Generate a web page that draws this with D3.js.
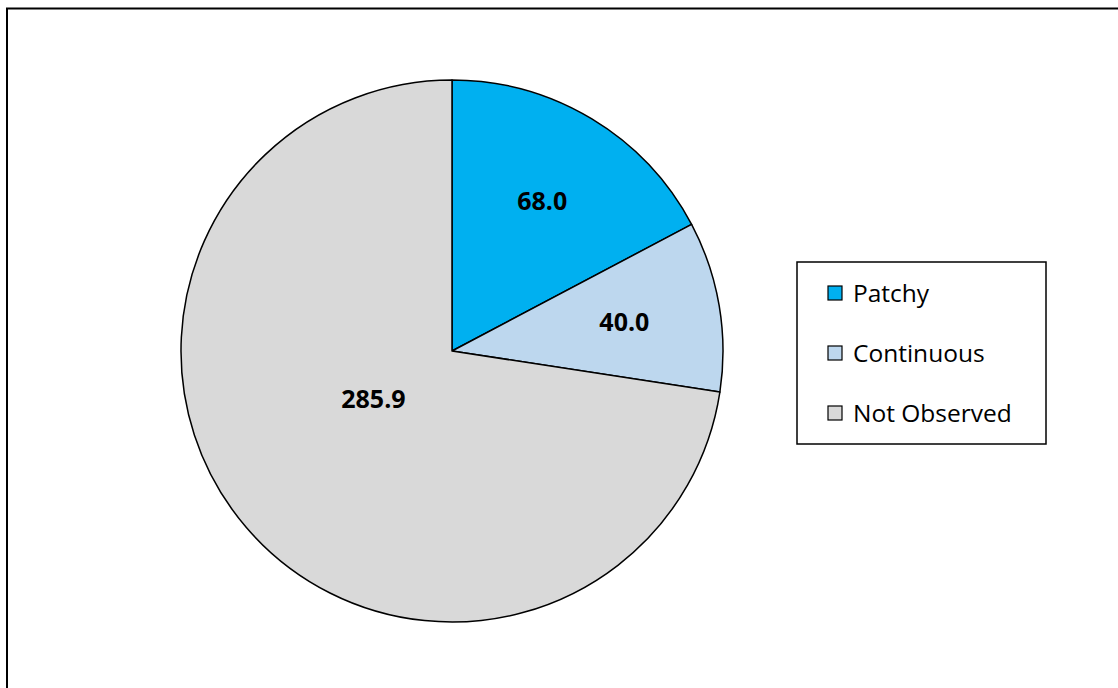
<!DOCTYPE html>
<html>
<head>
<meta charset="utf-8">
<script src="https://cdn.jsdelivr.net/npm/d3@7"></script>
<style>
  html, body { margin: 0; padding: 0; background: #fff; }
  svg { display: block; font-family: "Open Sans", sans-serif; }
</style>
</head>
<body>
<svg id="chart"></svg>
<script>
// pie data
const categories = ["Patchy", "Continuous", "Not Observed"]
const values = [68.0, 40.0, 285.9]
const colors = ["#00B0F0", "#BDD7EE", "#D9D9D9"]

const svgWidth = 1118, svgHeight = 688
const svg = d3.select("#chart")
  .attr("width", svgWidth)
  .attr("height", svgHeight)

// chart area border (runs off the right/bottom edge in the original)
svg.append("rect")
  .attr("x", 7).attr("y", 8.5)
  .attr("width", 1300).attr("height", 900)
  .attr("fill", "none")
  .attr("stroke", "#000")
  .attr("stroke-width", 2)

const cx = 452, cy = 351, radius = 271
const data = categories.map((c, i) => ({ name: c, value: values[i], color: colors[i] }))

const pie = d3.pie().sort(null).value(d => d.value)
const arcs = pie(data)
const arc = d3.arc().innerRadius(0).outerRadius(radius)
const labelArc = d3.arc().innerRadius(radius * 0.645).outerRadius(radius * 0.645)
const bigLabelArc = d3.arc().innerRadius(radius * 0.34).outerRadius(radius * 0.34)

const g = svg.append("g").attr("transform", "translate(" + cx + "," + cy + ")")

g.selectAll("path")
  .data(arcs)
  .enter().append("path")
  .attr("d", arc)
  .attr("fill", d => d.data.color)
  .attr("stroke", "#000")
  .attr("stroke-width", 1.5)
  .attr("stroke-linejoin", "round")

g.selectAll("text.val")
  .data(arcs)
  .enter().append("text")
  .attr("class", "val")
  .attr("transform", d => {
    // big slice label sits closer to the centre, like excel's best fit
    const big = d.endAngle - d.startAngle > Math.PI
    const p = big ? bigLabelArc.centroid({ startAngle: d.startAngle + 0.16, endAngle: d.endAngle + 0.16 })
                  : labelArc.centroid(d)
    return "translate(" + p[0] + "," + p[1] + ")"
  })
  .attr("text-anchor", "middle")
  .attr("dy", "0.36em")
  .attr("font-size", 25)
  .attr("font-weight", "bold")
  .text(d => d3.format(".1f")(d.data.value))

// legend
const legend = svg.append("g").attr("transform", "translate(797,262)")
legend.append("rect")
  .attr("x", 0).attr("y", 0)
  .attr("width", 249).attr("height", 182)
  .attr("fill", "#fff")
  .attr("stroke", "#000")
  .attr("stroke-width", 1.5)

const ly = d3.scalePoint().domain(categories).range([31, 151])

const items = legend.selectAll("g.item")
  .data(data)
  .enter().append("g")
  .attr("class", "item")
  .attr("transform", d => "translate(0," + ly(d.name) + ")")

items.append("rect")
  .attr("x", 31).attr("y", -7)
  .attr("width", 14).attr("height", 14)
  .attr("fill", d => d.color)
  .attr("stroke", "#000")
  .attr("stroke-width", 1.2)

items.append("text")
  .attr("x", 56)
  .attr("dy", "0.36em")
  .attr("font-size", 24.5)
  .text(d => d.name)
</script>
</body>
</html>
